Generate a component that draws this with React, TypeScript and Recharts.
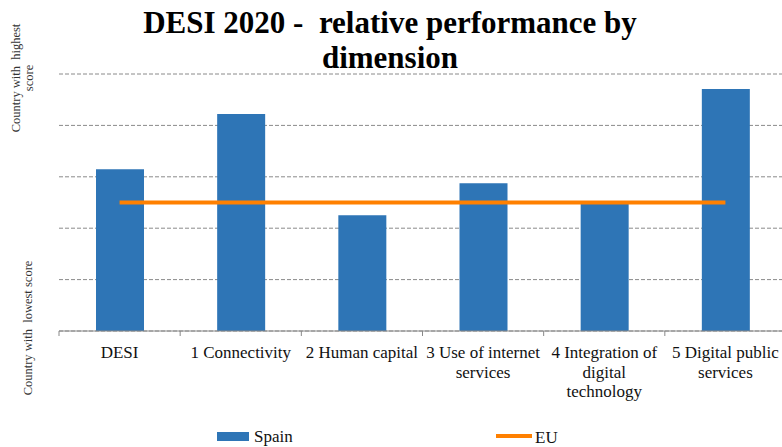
import React from 'react';
import { ComposedChart, Bar, Line, XAxis, YAxis, CartesianGrid } from 'recharts';

// categories (line breaks follow the reference's wrapping)
const categories = [
  'DESI',
  '1 Connectivity',
  '2 Human capital',
  '3 Use of internet\nservices',
  '4 Integration of\ndigital\ntechnology',
  '5 Digital public\nservices',
];

// relative score, 0 = country with lowest score, 1 = country with highest score
const spainValues = [0.629, 0.844, 0.45, 0.575, 0.494, 0.942];
const euValues = [0.5, 0.5, 0.5, 0.5, 0.5, 0.5];

const yTicks = [0, 0.2, 0.4, 0.6, 0.8, 1];

const serif = '"Liberation Serif", "Times New Roman", serif';

const CHART_W = 786;
const MARGIN_LEFT = 59;
const band = (CHART_W - MARGIN_LEFT) / categories.length;

const CategoryTick = (props: any) => {
  const { x, y, payload } = props;
  const lines = String(payload.value).split('\n');
  return (
    <g>
      <line x1={x - band / 2} x2={x - band / 2} y1={y} y2={y + 5} stroke="#888" />
      <text x={x} y={y + 27} textAnchor="middle" fontFamily={serif} fontSize={17} fill="#111">
        {lines.map((l, i) => (
          <tspan key={i} x={x} y={y + 27 + i * 19.7}>
            {l}
          </tspan>
        ))}
      </text>
    </g>
  );
};

const App: React.FC = () => {
  const data = categories.map((c, i) => ({
    name: c,
    Spain: spainValues[i],
    EU: euValues[i],
  }));

  return (
    <div
      style={{
        position: 'absolute',
        left: 0,
        top: 0,
        width: 782,
        height: 447,
        overflow: 'hidden',
        background: '#fff',
      }}
    >
      <ComposedChart
        width={CHART_W}
        height={447}
        data={data}
        margin={{ top: 74, right: 0, left: MARGIN_LEFT, bottom: 56 }}
      >
        <CartesianGrid vertical={false} stroke="#8a8a8a" strokeDasharray="4 2" />
        <YAxis hide domain={[0, 1]} ticks={yTicks} />
        <XAxis
          dataKey="name"
          height={60}
          interval={0}
          tickSize={0}
          tickMargin={0}
          tickLine={false}
          axisLine={{ stroke: '#888' }}
          tick={<CategoryTick />}
        />
        <Bar dataKey="Spain" fill="#2E75B6" barSize={48} isAnimationActive={false} />
        <Line
          dataKey="EU"
          type="linear"
          stroke="#FF8000"
          strokeWidth={4}
          dot={false}
          activeDot={false}
          isAnimationActive={false}
        />
      </ComposedChart>

      <svg
        width={782}
        height={447}
        style={{ position: 'absolute', left: 0, top: 0, pointerEvents: 'none' }}
      >
        <text fontFamily={serif} fontWeight="bold" fontSize={31} fill="#000" textAnchor="middle" style={{ whiteSpace: 'pre' }}>
          <tspan x={390} y={33}>DESI 2020 -  relative performance by</tspan>
          <tspan x={390} y={67.5}>dimension</tspan>
        </text>

        <g transform="translate(20,78) rotate(-90)">
          <text fontFamily={serif} fontSize={12.5} fill="#333" textAnchor="middle" style={{ whiteSpace: 'pre' }}>
            <tspan x={0} y={0}>Country with  highest</tspan>
            <tspan x={0} y={13}>score</tspan>
          </text>
        </g>
        <g transform="translate(32,328) rotate(-90)">
          <text fontFamily={serif} fontSize={12.5} fill="#333" textAnchor="middle" style={{ whiteSpace: 'pre' }}>
            Country with  lowest score
          </text>
        </g>

        {/* legend */}
        <rect x={217} y={432} width={32} height={9} fill="#2E75B6" />
        <text x={254} y={442} fontFamily={serif} fontSize={17} fill="#111">Spain</text>
        <line x1={496} x2={532} y1={436} y2={436} stroke="#FF8000" strokeWidth={4} />
        <text x={535} y={443} fontFamily={serif} fontSize={17} fill="#111">EU</text>
      </svg>
    </div>
  );
};

export default App;
